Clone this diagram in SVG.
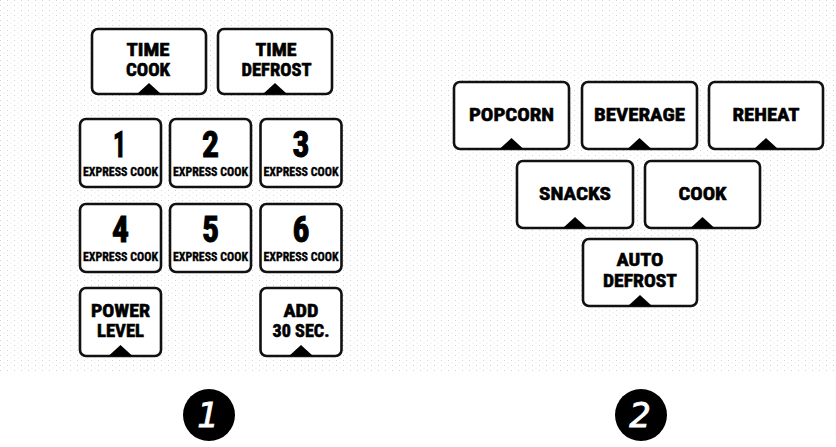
<svg xmlns="http://www.w3.org/2000/svg" width="836" height="447" viewBox="0 0 836 447">
<defs>
<style>
.btn rect{fill:#fff;stroke:#111;stroke-width:2.6}
.tri{fill:#000}
.lbl{font-family:"Liberation Sans Narrow","Roboto Condensed","DejaVu Sans Condensed","Liberation Sans",sans-serif;font-weight:bold;fill:#000;stroke:#000;text-anchor:middle}
.big{font-size:19px;stroke-width:0.6}
.two{font-size:18.5px;stroke-width:0.6}
.num{font-size:37px;stroke-width:1}
.sm{font-size:12.5px;stroke-width:0.35}
.badge{font-family:"DejaVu Sans","Liberation Sans",sans-serif;font-style:italic;font-size:34px;fill:#fff;stroke:#fff;stroke-width:0.8;text-anchor:middle}
</style>
<pattern id="tex" width="7" height="5" patternUnits="userSpaceOnUse">
<rect x="0" y="0" width="1" height="1" fill="#c4c4c4"/>
<rect x="3.5" y="2.5" width="1" height="1" fill="#dadada"/>
</pattern>
</defs>
<rect width="836" height="447" fill="#fff"/>
<rect x="0" y="0" width="836" height="372" fill="url(#tex)" opacity="0.75"/>

<g id="time-cook" class="btn"><rect x="92" y="29" width="114" height="65" rx="6"/><path class="tri" d="M137 94 L149 83 L161 94 Z"/><text class="lbl two" x="148" y="56" textLength="43" lengthAdjust="spacingAndGlyphs">TIME</text><text class="lbl two" x="148" y="76" textLength="44" lengthAdjust="spacingAndGlyphs">COOK</text></g>
<g id="time-defrost" class="btn"><rect x="218" y="29" width="114" height="65" rx="6"/><path class="tri" d="M263 94 L275 83 L287 94 Z"/><text class="lbl two" x="276" y="56" textLength="41" lengthAdjust="spacingAndGlyphs">TIME</text><text class="lbl two" x="276.5" y="76" textLength="70" lengthAdjust="spacingAndGlyphs">DEFROST</text></g>

<g id="btn-1" class="btn"><rect x="80" y="119" width="81" height="68" rx="6"/><text class="lbl num" x="119.5" y="157" textLength="13" lengthAdjust="spacingAndGlyphs">1</text><text class="lbl sm" x="120.5" y="176" textLength="75" lengthAdjust="spacingAndGlyphs">EXPRESS COOK</text></g>
<g id="btn-2" class="btn"><rect x="170" y="119" width="81" height="68" rx="6"/><text class="lbl num" x="210.5" y="157" textLength="17" lengthAdjust="spacingAndGlyphs">2</text><text class="lbl sm" x="210.5" y="176" textLength="75" lengthAdjust="spacingAndGlyphs">EXPRESS COOK</text></g>
<g id="btn-3" class="btn"><rect x="260.5" y="119" width="81" height="68" rx="6"/><text class="lbl num" x="301" y="157" textLength="17" lengthAdjust="spacingAndGlyphs">3</text><text class="lbl sm" x="301" y="176" textLength="75" lengthAdjust="spacingAndGlyphs">EXPRESS COOK</text></g>

<g id="btn-4" class="btn"><rect x="80" y="204" width="81" height="68" rx="6"/><text class="lbl num" x="120.5" y="242" textLength="17" lengthAdjust="spacingAndGlyphs">4</text><text class="lbl sm" x="120.5" y="261" textLength="75" lengthAdjust="spacingAndGlyphs">EXPRESS COOK</text></g>
<g id="btn-5" class="btn"><rect x="170" y="204" width="81" height="68" rx="6"/><text class="lbl num" x="210.5" y="242" textLength="17" lengthAdjust="spacingAndGlyphs">5</text><text class="lbl sm" x="210.5" y="261" textLength="75" lengthAdjust="spacingAndGlyphs">EXPRESS COOK</text></g>
<g id="btn-6" class="btn"><rect x="260.5" y="204" width="81" height="68" rx="6"/><text class="lbl num" x="301" y="242" textLength="17" lengthAdjust="spacingAndGlyphs">6</text><text class="lbl sm" x="301" y="261" textLength="75" lengthAdjust="spacingAndGlyphs">EXPRESS COOK</text></g>

<g id="power-level" class="btn"><rect x="80" y="288" width="81" height="68" rx="6"/><path class="tri" d="M108.5 356 L120.5 345 L132.5 356 Z"/><text class="lbl two" x="120.5" y="317" textLength="59" lengthAdjust="spacingAndGlyphs">POWER</text><text class="lbl two" x="120.5" y="337" textLength="47" lengthAdjust="spacingAndGlyphs">LEVEL</text></g>
<g id="add-30" class="btn"><rect x="260.5" y="288" width="81" height="68" rx="6"/><path class="tri" d="M289 356 L301 345 L313 356 Z"/><text class="lbl two" x="301" y="317" textLength="35" lengthAdjust="spacingAndGlyphs">ADD</text><text class="lbl two" x="301" y="337" textLength="57" lengthAdjust="spacingAndGlyphs">30 SEC.</text></g>

<g id="popcorn" class="btn"><rect x="454" y="82" width="115" height="67" rx="6"/><path class="tri" d="M499.5 149 L511.5 138 L523.5 149 Z"/><text class="lbl big" x="511.5" y="121" textLength="85" lengthAdjust="spacingAndGlyphs">POPCORN</text></g>
<g id="beverage" class="btn"><rect x="582" y="82" width="115" height="67" rx="6"/><path class="tri" d="M627.5 149 L639.5 138 L651.5 149 Z"/><text class="lbl big" x="639.5" y="121" textLength="91" lengthAdjust="spacingAndGlyphs">BEVERAGE</text></g>
<g id="reheat" class="btn"><rect x="709" y="82" width="114" height="67" rx="6"/><path class="tri" d="M754 149 L766 138 L778 149 Z"/><text class="lbl big" x="766" y="121" textLength="67" lengthAdjust="spacingAndGlyphs">REHEAT</text></g>
<g id="snacks" class="btn"><rect x="517" y="161" width="116" height="67" rx="6"/><path class="tri" d="M563 228 L575 217 L587 228 Z"/><text class="lbl big" x="575" y="200" textLength="72" lengthAdjust="spacingAndGlyphs">SNACKS</text></g>
<g id="cook" class="btn"><rect x="645" y="161" width="115" height="67" rx="6"/><path class="tri" d="M690.5 228 L702.5 217 L714.5 228 Z"/><text class="lbl big" x="702.5" y="200" textLength="48" lengthAdjust="spacingAndGlyphs">COOK</text></g>
<g id="auto-defrost" class="btn"><rect x="583" y="239" width="114" height="67" rx="6"/><path class="tri" d="M628 306 L640 295 L652 306 Z"/><text class="lbl two" x="640" y="266" textLength="47" lengthAdjust="spacingAndGlyphs">AUTO</text><text class="lbl two" x="640" y="287" textLength="74" lengthAdjust="spacingAndGlyphs">DEFROST</text></g>

<g id="badge-1"><circle cx="209" cy="415" r="26" fill="#000"/><text class="badge" x="208" y="427">1</text></g>
<g id="badge-2"><circle cx="641" cy="415" r="26" fill="#000"/><text class="badge" x="640" y="427">2</text></g>
<g id="connectors"></g>
</svg>
